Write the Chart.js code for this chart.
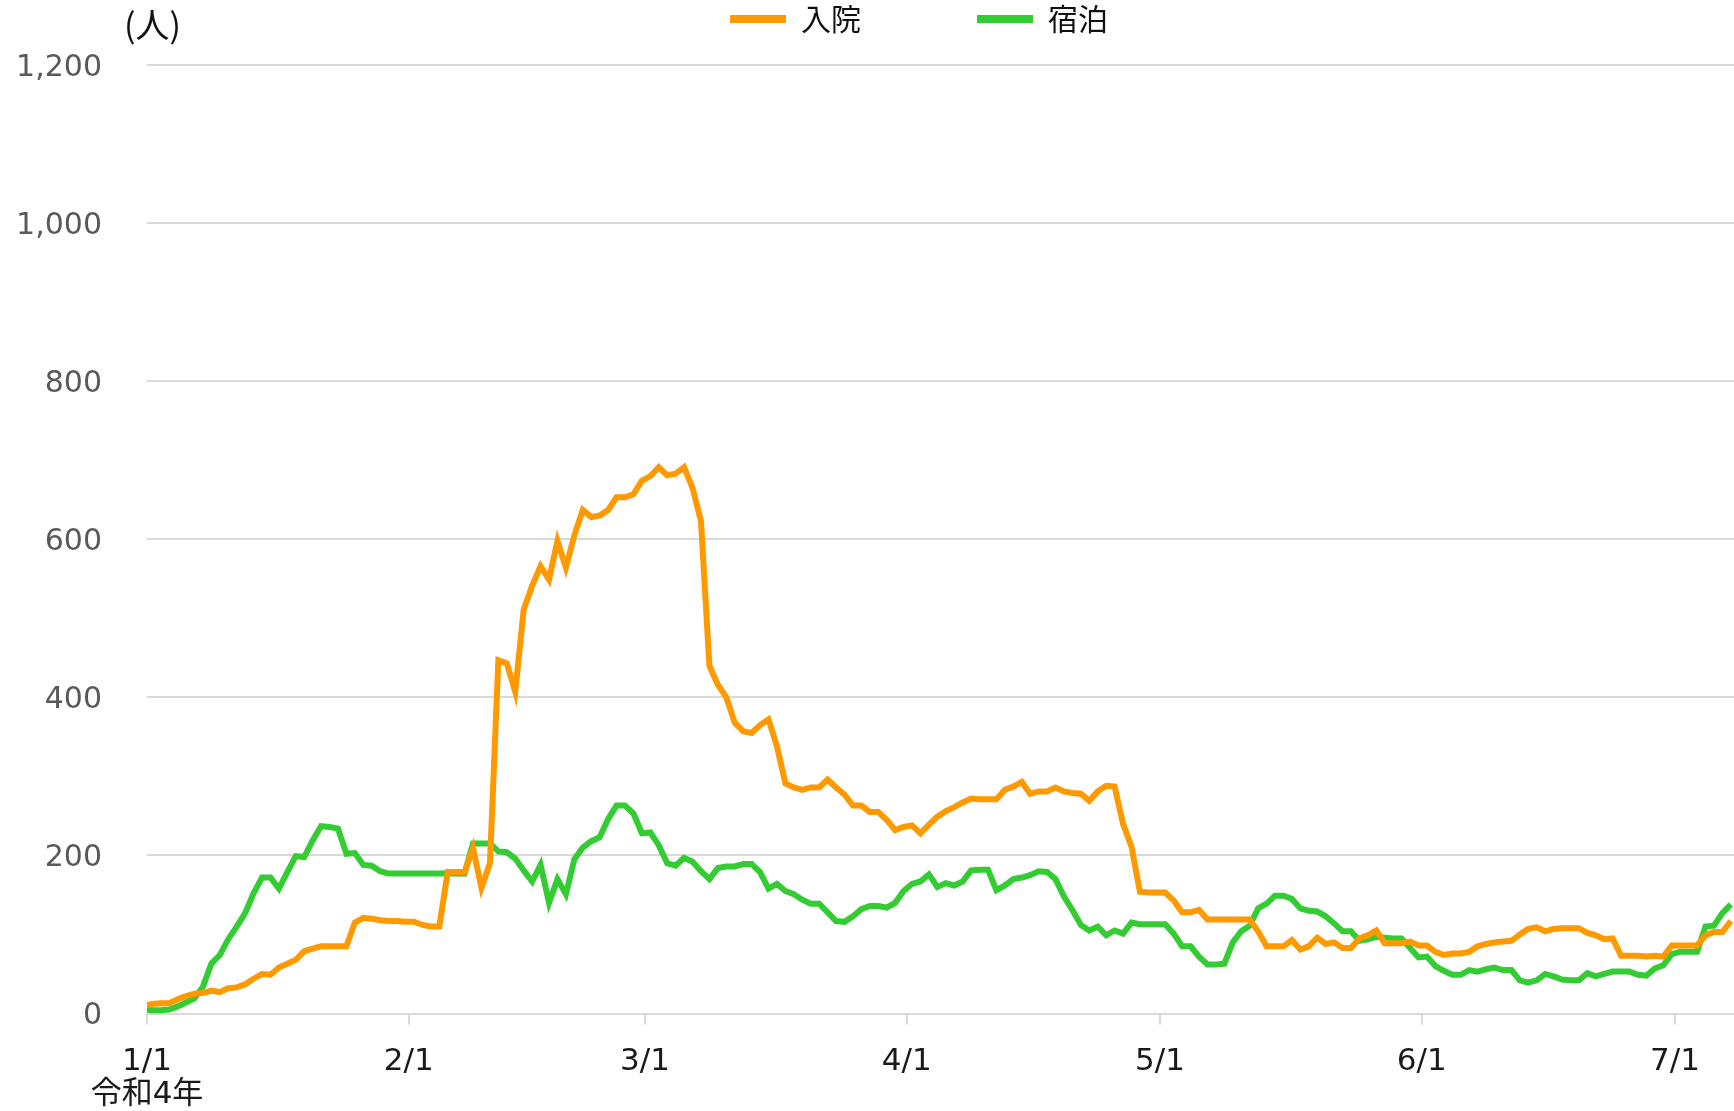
<!DOCTYPE html>
<html>
<head>
<meta charset="utf-8">
<script src="https://cdn.jsdelivr.net/npm/chart.js@4.4.1/dist/chart.umd.min.js"></script>
<style>
  html, body { margin: 0; padding: 0; background: #ffffff; }
  canvas { display: block; }
</style>
</head>
<body>
<canvas id="c" width="1734" height="1111"></canvas>
<script>
// ---------------- data ----------------
const startDate = '2022-01-01';
const endDate = '2022-07-08';
const tickDates = ['2022-01-01', '2022-02-01', '2022-03-01', '2022-04-01', '2022-05-01', '2022-06-01', '2022-07-01'];
const tickLabels = [['1/1', '令和4年'], '2/1', '3/1', '4/1', '5/1', '6/1', '7/1'];
const seriesNames = ['入院', '宿泊'];
const unitLabel = '(人)';
const yTicks = [0, 200, 400, 600, 800, 1000, 1200];

// daily values from 1/1 to 7/8
const hospitalized = [
  10, 12, 13, 13, 18, 22, 25, 26, 29, 27,
  32, 33, 37, 44, 50, 49, 58, 63, 68, 79,
  82, 85, 85, 85, 85, 115, 121, 120, 118, 117,
  117, 116, 116, 112, 110, 110, 179, 179, 179, 209,
  159, 190, 447, 443, 407, 511, 541, 566, 549, 598,
  564, 605, 637, 628, 630, 637, 653, 653, 657, 674,
  680, 691, 681, 683, 691, 665, 623, 440, 416, 400,
  368, 357, 355, 365, 372, 338, 291, 286, 283, 286,
  286, 296, 286, 277, 263, 263, 255, 255, 245, 232,
  236, 238, 228, 239, 249, 256, 261, 267, 272, 271,
  271, 271, 283, 287, 293, 278, 281, 281, 286, 281,
  279, 278, 269, 281, 288, 287, 240, 211, 154, 153,
  153, 153, 143, 128, 128, 131, 119, 119, 119, 119,
  119, 119, 104, 85, 85, 85, 93, 81, 85, 96,
  88, 90, 83, 83, 95, 99, 105, 89, 89, 89,
  91, 86, 86, 78, 74, 76, 76, 78, 85, 88,
  90, 91, 92, 100, 107, 109, 104, 107, 108, 108,
  108, 102, 99, 94, 95, 73, 73, 73, 72, 73,
  72, 86, 86, 86, 86, 99, 103, 103, 117
];
const lodging = [
  5, 4, 4, 5, 9, 14, 19, 34, 63, 74,
  94, 110, 127, 152, 172, 172, 158, 179, 199, 198,
  219, 237, 236, 234, 202, 203, 188, 187, 180, 177,
  177, 177, 177, 177, 177, 177, 177, 177, 177, 215,
  215, 215, 205, 204, 196, 181, 167, 188, 140, 170,
  151, 195, 210, 218, 223, 246, 263, 263, 253, 228,
  229, 213, 190, 187, 197, 192, 180, 170, 184, 186,
  186, 189, 189, 179, 158, 164, 155, 151, 144, 139,
  139, 128, 117, 116, 123, 132, 136, 136, 134, 140,
  155, 164, 167, 176, 160, 165, 162, 167, 181, 182,
  182, 156, 162, 170, 172, 175, 180, 179, 170, 148,
  131, 112, 105, 110, 99, 105, 101, 115, 113, 113,
  113, 113, 101, 85, 85, 72, 62, 62, 63, 90,
  104, 111, 133, 139, 149, 149, 145, 133, 130, 129,
  123, 114, 104, 104, 92, 94, 97, 96, 95, 95,
  83, 71, 72, 60, 54, 49, 49, 55, 53, 56,
  58, 55, 55, 42, 39, 42, 50, 47, 43, 42,
  42, 51, 47, 50, 53, 53, 53, 49, 48, 57,
  61, 75, 78, 78, 78, 110, 111, 127, 138
];

// ---------------- helpers ----------------
const TZ_SHIFT = -9 / 24; // daily values stamped at JST midnight, axis days in UTC
const DAY = 86400000;
const dayOf = s => (Date.parse(s + 'T00:00:00Z') - Date.parse(startDate + 'T00:00:00Z')) / DAY;
const tickDays = tickDates.map(dayOf);
const toPoints = arr => arr.map((v, i) => ({ x: i + TZ_SHIFT, y: v }));

const NUM_FONT = "'DejaVu Sans', 'Noto Sans CJK JP', sans-serif";
const JP_FONT = "'Noto Sans CJK JP', 'DejaVu Sans', sans-serif";
const LEGEND_PAD = 116;

const tweaks = {
  id: 'tweaks',
  afterLayout(chart) {
    const lg = chart.legend;
    if (lg) {
      lg.left = 730 - LEGEND_PAD;
      lg.top = 4 - LEGEND_PAD;
    }
  },
  afterDraw(chart) {
    const ctx = chart.ctx;
    ctx.save();
    ctx.font = '34px ' + JP_FONT;
    ctx.fillStyle = '#111111';
    ctx.textAlign = 'left';
    ctx.textBaseline = 'middle';
    ctx.fillText(unitLabel, chart.chartArea.left - 23, 25);
    ctx.restore();
  }
};

new Chart(document.getElementById('c'), {
  type: 'line',
  data: {
    datasets: [
      {
        label: seriesNames[0],
        data: toPoints(hospitalized),
        borderColor: '#ff9900',
        backgroundColor: '#ff9900',
        borderWidth: 6,
        pointRadius: 0,
        pointHoverRadius: 0,
        tension: 0,
        fill: false,
        clip: { left: 0, right: 0, top: 6, bottom: 6 }
      },
      {
        label: seriesNames[1],
        data: toPoints(lodging),
        borderColor: '#33cc33',
        backgroundColor: '#33cc33',
        borderWidth: 6,
        pointRadius: 0,
        pointHoverRadius: 0,
        tension: 0,
        fill: false,
        clip: { left: 0, right: 0, top: 6, bottom: 6 }
      }
    ]
  },
  options: {
    responsive: false,
    animation: false,
    devicePixelRatio: 1,
    layout: { padding: { top: 0, right: 0, bottom: 0, left: 0 } },
    plugins: {
      tooltip: { enabled: false },
      legend: {
        display: true,
        position: 'top',
        align: 'start',
        maxHeight: 65,
        labels: {
          boxWidth: 56,
          boxHeight: 8,
          padding: LEGEND_PAD,
          color: '#111111',
          font: { family: JP_FONT, size: 30 },
          generateLabels: (chart) => Chart.defaults.plugins.legend.labels.generateLabels(chart)
            .map(l => Object.assign({}, l, { lineWidth: 0, fillStyle: l.strokeStyle }))
        }
      }
    },
    scales: {
      x: {
        type: 'linear',
        bounds: 'data',
        min: dayOf(startDate),
        max: dayOf(endDate),
        afterBuildTicks: (s) => { s.ticks = tickDays.map(v => ({ value: v })); },
        afterFit: (s) => { s.height = 97.5; },
        grid: { drawOnChartArea: false, drawTicks: true, tickLength: 11, color: '#d9d9d9', lineWidth: 2 },
        border: { display: true, color: '#d9d9d9', width: 2 },
        ticks: {
          autoSkip: false,
          maxRotation: 0,
          minRotation: 0,
          padding: 21,
          color: '#1a1a1a',
          font: { family: NUM_FONT, size: 31, lineHeight: 1.07 },
          callback: (v) => {
            const i = tickDays.indexOf(v);
            return i >= 0 ? tickLabels[i] : '';
          }
        }
      },
      y: {
        min: yTicks[0],
        max: yTicks[yTicks.length - 1],
        afterBuildTicks: (s) => { s.ticks = yTicks.map(v => ({ value: v })); },
        afterFit: (s) => { s.width = 147; },
        grid: { color: '#d9d9d9', lineWidth: 2, drawTicks: false },
        border: { display: false },
        ticks: {
          padding: 45,
          labelOffset: 3,
          color: '#595959',
          font: { family: NUM_FONT, size: 30 },
          callback: (v) => Number(v).toLocaleString('en-US')
        }
      }
    }
  },
  plugins: [tweaks]
});
</script>
</body>
</html>
